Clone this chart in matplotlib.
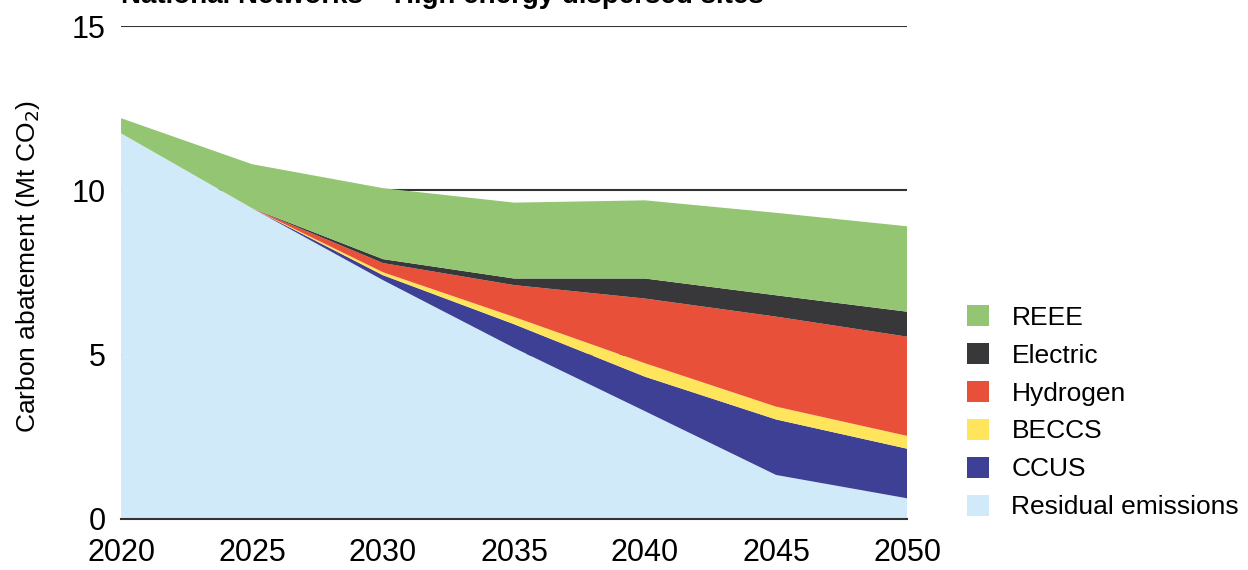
import numpy as np
import matplotlib.pyplot as plt
from matplotlib.patches import Patch

plt.rcParams['font.family'] = ['Liberation Sans', 'DejaVu Sans']

# Data (Mt CO2)
years = [2020, 2025, 2030, 2035, 2040, 2045, 2050]
residual = [11.74, 9.46, 7.27, 5.21, 3.28, 1.34, 0.63]
ccus = [0, 0, 0.15, 0.72, 1.05, 1.69, 1.51]
beccs = [0, 0, 0.09, 0.22, 0.41, 0.39, 0.39]
hydrogen = [0, 0, 0.28, 0.97, 1.97, 2.74, 3.02]
electric = [0, 0, 0.12, 0.20, 0.61, 0.65, 0.76]
reee = [0.46, 1.34, 2.16, 2.31, 2.38, 2.51, 2.60]

labels = ['Residual emissions', 'CCUS', 'BECCS', 'Hydrogen', 'Electric', 'REEE']
colors = ['#D0EAFA', '#3E4095', '#FFE55C', '#E8503A', '#38383A', '#93C572']

fig = plt.figure(figsize=(12.48, 5.70), dpi=100)
ax = fig.add_axes([0.097, 0.0895, 0.6298, 0.8645])

# gridlines behind the areas
for y in [5, 10, 15]:
    ax.axhline(y, color='#333333', lw=1.5, zorder=0)

ax.stackplot(years, residual, ccus, beccs, hydrogen, electric, reee,
             colors=colors, linewidth=0, zorder=1)

ax.set_xlim(2020, 2050)
ax.set_ylim(0, 15)
ax.set_xticks(years)
ax.set_yticks([0, 5, 10, 15])
ax.tick_params(axis='x', length=0, labelsize=22, pad=14)
ax.tick_params(axis='y', length=0, labelsize=22, pad=11)
for s in ['top', 'right', 'left']:
    ax.spines[s].set_visible(False)
ax.spines['bottom'].set_color('#333333')
ax.spines['bottom'].set_linewidth(1.5)
ax.spines['bottom'].set_zorder(3)

ax.set_ylabel(r'Carbon abatement (Mt CO$_2$)', fontsize=19)
ax.yaxis.set_label_coords(-0.1, 0.513)

fig.text(0.097, 0.994, 'National Networks \u2013 High energy dispersed sites',
         fontsize=20, fontweight='bold', va='baseline', ha='left')

handles = [Patch(facecolor=c, edgecolor='none') for c in colors][::-1]
ax.legend(handles, labels[::-1], loc='upper left', bbox_to_anchor=(0.766, 0.483),
          bbox_transform=fig.transFigure, frameon=False, fontsize=19,
          handlelength=0.85, handleheight=0.85, labelspacing=0.5, handletextpad=0.85,
          borderaxespad=0)

fig.savefig('out.png', dpi=100)
